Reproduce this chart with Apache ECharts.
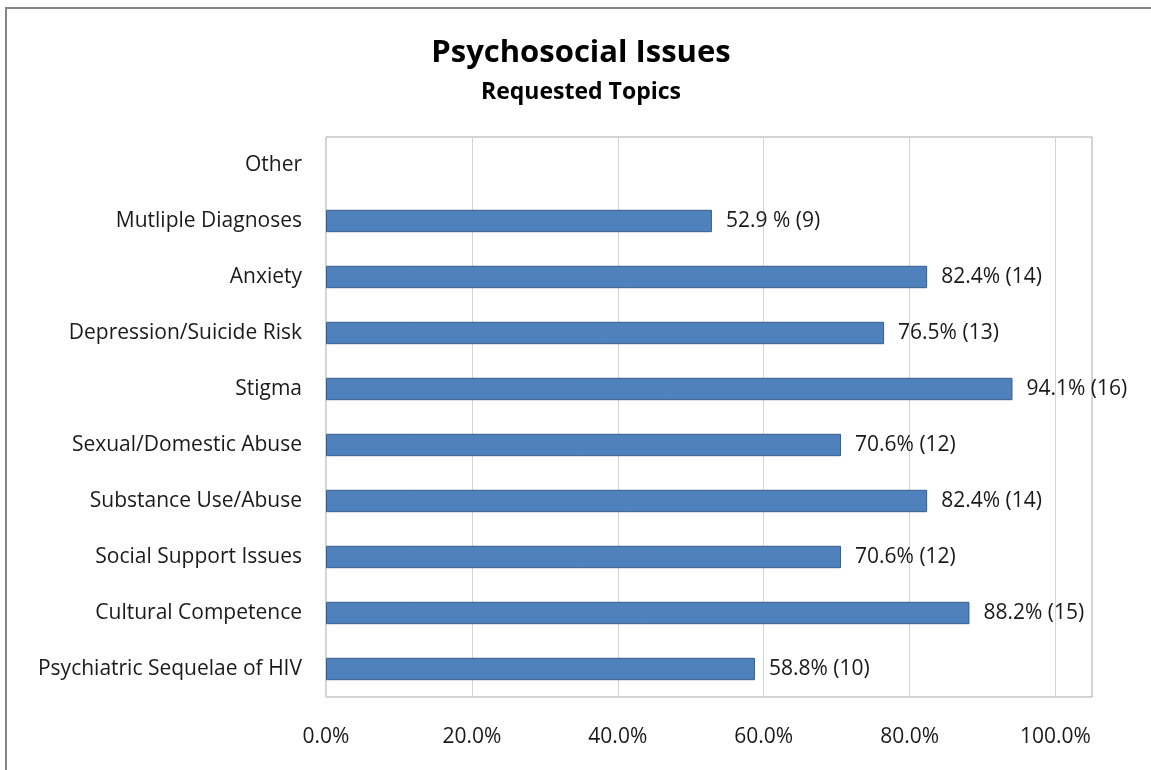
<!DOCTYPE html>
<html>
<head>
<meta charset="utf-8">
<script src="https://cdn.jsdelivr.net/npm/echarts@6/dist/echarts.min.js"></script>
<style>html,body{margin:0;padding:0;background:#fff;}#c{width:1151px;height:770px;}</style>
</head>
<body>
<div id="c"></div>
<script>
// Categories listed bottom to top
const categories = ['Psychiatric Sequelae of HIV', 'Cultural Competence', 'Social Support Issues', 'Substance Use/Abuse', 'Sexual/Domestic Abuse', 'Stigma', 'Depression/Suicide Risk', 'Anxiety', 'Mutliple Diagnoses', 'Other'];
const percentValues = [58.8, 88.2, 70.6, 82.4, 70.6, 94.1, 76.5, 82.4, 52.9, 0];
const counts = [10, 15, 12, 14, 12, 16, 13, 14, 9, 0];
const valueLabels = ['58.8% (10)', '88.2% (15)', '70.6% (12)', '82.4% (14)', '70.6% (12)', '94.1% (16)', '76.5% (13)', '82.4% (14)', '52.9 % (9)', ''];
const titleText = 'Psychosocial Issues';
const subtitleText = 'Requested Topics';

const FONT = '"Open Sans", Lato, sans-serif';
const chart = echarts.init(document.getElementById('c'), null, {renderer: 'canvas'});
chart.setOption({
  backgroundColor: '#fff',
  animation: false,
  graphic: [
    {type: 'line', shape: {x1: 6, y1: 8, x2: 1151, y2: 8}, style: {stroke: '#878787', lineWidth: 2}},
    {type: 'line', shape: {x1: 6, y1: 7, x2: 6, y2: 770}, style: {stroke: '#878787', lineWidth: 2}},
    {type: 'text', x: 581, y: 53, style: {text: titleText, font: 'bold 31px ' + FONT, fill: '#000', textAlign: 'center', textVerticalAlign: 'middle'}},
    {type: 'text', x: 581, y: 92, style: {text: subtitleText, font: 'bold 23px ' + FONT, fill: '#000', textAlign: 'center', textVerticalAlign: 'middle'}}
  ],
  grid: {left: 326, right: 59, top: 137, bottom: 73, show: true, borderColor: '#a6a6a6', borderWidth: 1, containLabel: false},
  xAxis: {
    type: 'value', min: 0, max: 105, interval: 20,
    axisLine: {show: false}, axisTick: {show: false},
    splitLine: {show: true, lineStyle: {color: '#d4d4d4', width: 1}},
    axisLabel: {showMaxLabel: false, margin: 30, fontFamily: FONT, fontSize: 21, color: '#1a1a1a',
      formatter: v => v.toFixed(1) + '%'}
  },
  yAxis: {
    type: 'category', data: categories,
    axisLine: {show: false}, axisTick: {show: false}, splitLine: {show: false},
    axisLabel: {margin: 24, fontFamily: FONT, fontSize: 21, color: '#1a1a1a', padding: [2, 0, 0, 0]}
  },
  series: [{
    type: 'bar',
    data: percentValues.map(v => v === 0 ? {value: v, itemStyle: {borderWidth: 0}} : v),
    barWidth: '40%',
    itemStyle: {color: '#4F81BD', borderColor: '#385D8A', borderWidth: 1},
    label: {show: true, position: 'right', distance: 14, fontFamily: FONT, fontSize: 21, color: '#1a1a1a',
      padding: [2, 0, 0, 0], formatter: p => valueLabels[p.dataIndex]}
  }]
});
</script>
</body>
</html>
